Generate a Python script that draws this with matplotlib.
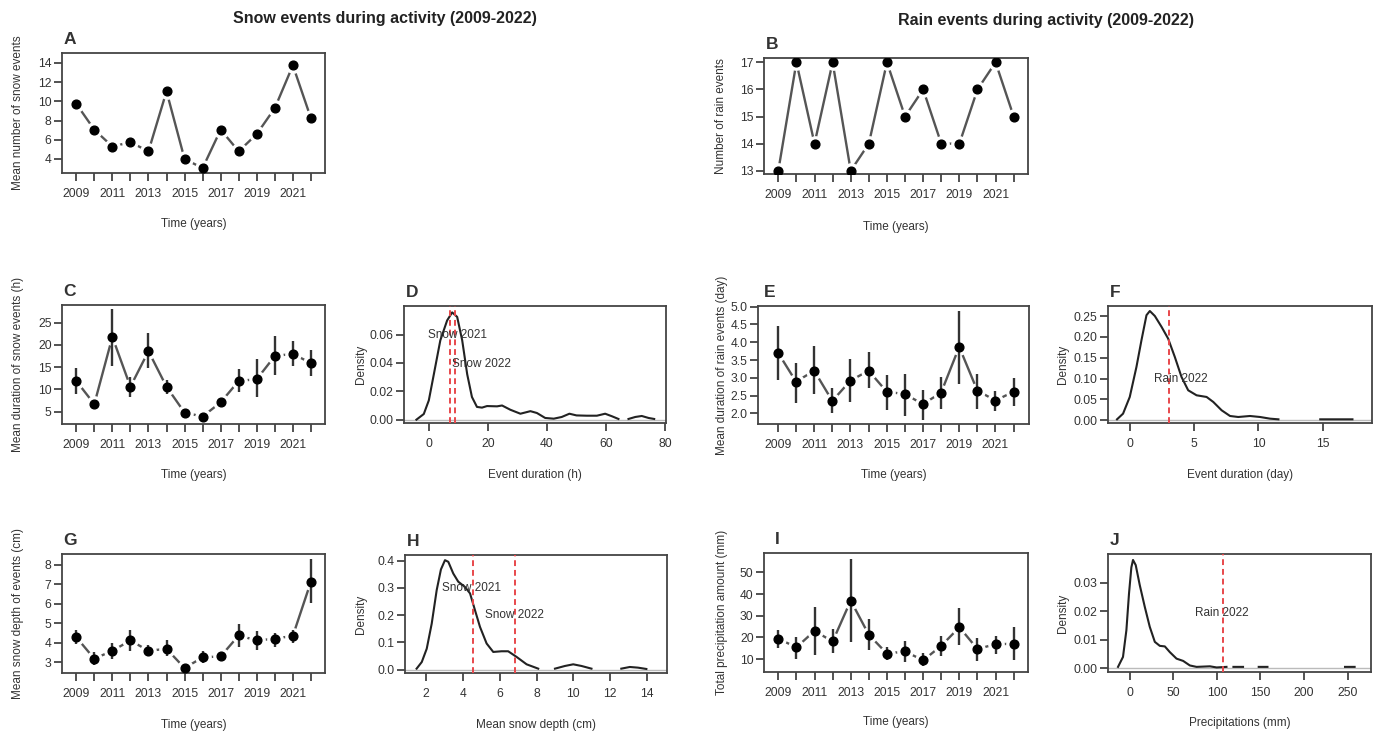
import numpy as np
import matplotlib.pyplot as plt

plt.rcParams['font.family'] = ['Liberation Sans', 'DejaVu Sans']

nan = np.nan
years = list(range(2009, 2023))
year_labels = [str(y) if (y - 2009) % 2 == 0 else '' for y in years]

# A - snow events per year
snow_n = [9.75, 7.05, 5.3, 5.75, 4.8, 11.05, 4.0, 3.05, 7.05, 4.8, 6.6, 9.3, 13.75, 8.25]

# B - rain events per year
rain_n = [13, 17, 14, 17, 13, 14, 17, 15, 16, 14, 14, 16, 17, 15]

# C - mean snow event duration (h) with bars
snow_dur = [11.9, 6.7, 21.8, 10.6, 18.6, 10.6, 4.8, 3.9, 7.1, 11.9, 12.3, 17.5, 18.0, 15.9]
snow_dur_lo = [9.0, 6.2, 15.3, 8.4, 14.8, 9.0, 4.3, 3.5, 6.5, 9.5, 8.2, 13.3, 15.2, 13.1]
snow_dur_hi = [14.9, 7.2, 28.0, 12.9, 22.7, 12.2, 5.3, 4.3, 7.7, 14.5, 16.8, 21.9, 20.9, 18.9]

# E - mean rain event duration (day)
rain_dur = [3.71, 2.89, 3.2, 2.35, 2.92, 3.2, 2.61, 2.54, 2.26, 2.58, 3.87, 2.64, 2.36, 2.61]
rain_dur_lo = [2.94, 2.30, 2.54, 2.0, 2.31, 2.72, 2.09, 1.93, 1.81, 2.12, 2.82, 2.12, 2.07, 2.22]
rain_dur_hi = [4.46, 3.42, 3.89, 2.70, 3.53, 3.72, 3.08, 3.12, 2.67, 3.03, 4.88, 3.12, 2.63, 3.0]

# G - mean snow depth (cm)
depth = [4.28, 3.17, 3.58, 4.11, 3.58, 3.68, 2.69, 3.24, 3.29, 4.37, 4.11, 4.20, 4.35, 7.14]
depth_lo = [3.94, 2.83, 3.17, 3.55, 3.29, 3.29, 2.64, 2.95, 3.12, 3.75, 3.63, 3.80, 3.98, 6.03]
depth_hi = [4.63, 3.51, 3.98, 4.63, 3.89, 4.11, 2.74, 3.55, 3.46, 4.97, 4.58, 4.52, 4.66, 8.31]

# I - total precipitation (mm)
precip = [19.4, 15.4, 23.0, 18.1, 37.0, 21.2, 12.5, 13.5, 9.4, 16.1, 24.7, 14.6, 16.9, 17.0]
precip_lo = [15.1, 10.0, 12.0, 12.8, 17.8, 14.0, 9.7, 8.5, 6.6, 11.5, 16.3, 8.9, 12.5, 9.7]
precip_hi = [23.5, 20.4, 33.9, 23.9, 56.4, 28.4, 15.5, 18.1, 12.8, 20.7, 33.8, 19.7, 20.7, 25.0]

# D - density of snow event duration
d_x = [-4.2, -1.7, 0, 1.7, 3.9, 6.2, 7.9, 9.6, 11.3, 13, 14.6, 16.3, 18, 19.7, 23.1, 24.8,
       27.6, 31, 34.4, 36.6, 39.4, 42.3, 45, 47.6, 50, 53.5, 56.9, 59.7, 62, 64.2, 66,
       67.6, 69.9, 72.1, 74.4, 76.3]
d_y = [0, 0.004, 0.0136, 0.032, 0.056, 0.070, 0.0757, 0.0725, 0.056, 0.032, 0.016, 0.009,
       0.0085, 0.0096, 0.0094, 0.010, 0.007, 0.0042, 0.006, 0.0047, 0.0012, 0.0007, 0.0019,
       0.0042, 0.003, 0.0028, 0.0028, 0.0042, 0.0024, 0.0005, nan, 0.0005, 0.0019, 0.0026,
       0.0012, 0.0005]
d_lines = [7.3, 8.7]

# F - density of rain event duration
f_x = [-0.99, -0.52, 0, 0.52, 0.91, 1.30, 1.56, 1.95, 2.47, 2.98, 3.5, 4.02, 4.54, 5.19,
       5.97, 6.49, 7.14, 7.79, 8.43, 9.34, 10.12, 10.9, 11.55, 13.0, 14.8, 17.3]
f_y = [0.0024, 0.016, 0.056, 0.128, 0.192, 0.252, 0.262, 0.25, 0.224, 0.196, 0.152, 0.104,
       0.072, 0.060, 0.056, 0.044, 0.024, 0.0104, 0.008, 0.0104, 0.008, 0.004, 0.0024, nan,
       0.0024, 0.0024]
f_lines = [3.04]

# H - density of mean snow depth
h_x = [1.49, 1.77, 2.04, 2.31, 2.58, 2.81, 3.03, 3.21, 3.48, 3.75, 4.11, 4.39, 4.66, 4.93,
       5.29, 5.65, 6.10, 6.46, 6.92, 7.46, 8.09, 8.5, 9.0, 9.54, 9.99, 10.44, 10.98, 11.8,
       12.6, 13.06, 13.5, 13.96]
h_y = [0.0037, 0.028, 0.077, 0.169, 0.292, 0.368, 0.402, 0.396, 0.353, 0.323, 0.304, 0.280,
       0.218, 0.157, 0.096, 0.065, 0.0675, 0.0675, 0.0466, 0.0196, 0.0037, nan, 0.0037,
       0.0135, 0.0196, 0.0135, 0.0037, nan, 0.0037, 0.0098, 0.0074, 0.0025]
h_lines = [4.53, 6.83]

# J - density of precipitation
j_x = [-13.4, -7.7, -3.8, -0.8, 1.9, 3.8, 6.9, 11.5, 17.3, 23.0, 28.8, 34.5, 40.3, 46, 53.7,
       61.3, 69, 76.7, 92, 99.7, 111, 115, 119, 130, 140, 148, 158, 200, 247, 258]
j_y = [0.0004, 0.0039, 0.0133, 0.0262, 0.0354, 0.038, 0.0362, 0.0292, 0.0215, 0.0145,
       0.0092, 0.0078, 0.0076, 0.0056, 0.0033, 0.0025, 0.0009, 0.0004, 0.0006, 0.0002,
       0.0004, nan, 0.0004, 0.0004, nan, 0.0004, 0.0004, nan, 0.0004, 0.0004]
j_lines = [106.6]

W, H = 1378, 731
fig = plt.figure(figsize=(W / 100, H / 100), dpi=100)
TXT = '#333333'


def panel(l, t, r, b, letter, xlab, ylab, ylab_x, xlab_y, letter_dx=1):
    ax = fig.add_axes([l / W, 1 - b / H, (r - l) / W, (b - t) / H])
    for s in ax.spines.values():
        s.set_color('#444444')
        s.set_linewidth(1.3)
        s.set_zorder(2.5)
    ax.tick_params(direction='out', length=6, width=1.3, color='#444444',
                   labelcolor=TXT, labelsize=8.7)
    ax.tick_params(axis='x', pad=5)
    ax.tick_params(axis='y', pad=1.5)
    ax.annotate(letter, xy=(0, 1), xycoords='axes fraction', xytext=(letter_dx, 4),
                textcoords='offset points', fontsize=12.5, fontweight='bold',
                color=TXT, ha='left', va='bottom')
    ax.set_xlabel(xlab, fontsize=8.5, color=TXT, va='center')
    ax.xaxis.set_label_coords(0.5, -(xlab_y - b) / (b - t))
    ax.set_ylabel(ylab, fontsize=8.5, color=TXT, va='center')
    ax.yaxis.set_label_coords(-(l - ylab_x) / (r - l), 0.5)
    return ax


def series(ax, y, lo=None, hi=None):
    ax.plot(years, y, color='#555555', lw=1.7, zorder=1)
    ax.plot(years, y, 'o', color='white', ms=11, zorder=1.5)
    if lo is not None:
        ax.vlines(years, lo, hi, color='#333333', lw=1.7, zorder=3)
    ax.plot(years, y, 'o', color='black', ms=6.3, zorder=4)
    ax.set_xticks(years)
    ax.set_xticklabels(year_labels)


def density(ax, x, y, lines):
    ax.axhline(0, color='#bbbbbb', lw=1, zorder=1)
    ax.plot(x, y, color='#222222', lw=1.5, zorder=2)
    for v in lines:
        ax.axvline(v, color='#e8474b', lw=1.4, ls=(0, (3, 2)), zorder=3)


# titles
fig.text(385 / W, 1 - 18 / H, 'Snow events during activity (2009-2022)', ha='center',
         va='center', fontsize=11.5, fontweight='bold', color='#222222')
fig.text(1046 / W, 1 - 20 / H, 'Rain events during activity (2009-2022)', ha='center',
         va='center', fontsize=11.5, fontweight='bold', color='#222222')

# A
ax = panel(62, 53, 325, 173, 'A', 'Time (years)', 'Mean number of snow events', 18, 224)
series(ax, snow_n)
ax.set_xlim(2008.21, 2022.78)
ax.set_ylim(2.54, 15.04)
ax.set_yticks([4, 6, 8, 10, 12, 14])

# B
ax = panel(764, 58, 1028, 174, 'B', 'Time (years)', 'Number of rain events', 721, 227)
series(ax, rain_n)
ax.set_xlim(2008.21, 2022.79)
ax.set_ylim(12.88, 17.16)
ax.set_yticks([13, 14, 15, 16, 17])

# C
ax = panel(62, 305, 325, 424, 'C', 'Time (years)', 'Mean duration of snow events (h)', 18, 475)
series(ax, snow_dur, snow_dur_lo, snow_dur_hi)
ax.set_xlim(2008.21, 2022.78)
ax.set_ylim(2.23, 28.97)
ax.set_yticks([5, 10, 15, 20, 25])

# D
ax = panel(404, 306, 666, 423, 'D', 'Event duration (h)', 'Density', 361, 475)
density(ax, d_x, d_y, d_lines)
ax.text(9.6, 0.060, 'Snow 2021', ha='center', va='center', fontsize=8.5, color=TXT)
ax.text(17.9, 0.039, 'Snow 2022', ha='center', va='center', fontsize=8.5, color=TXT)
ax.set_xlim(-8.4, 80.3)
ax.set_ylim(-0.00235, 0.0802)
ax.set_xticks([0, 20, 40, 60, 80])
ax.set_yticks([0, 0.02, 0.04, 0.06])
ax.set_yticklabels(['0.00', '0.02', '0.04', '0.06'])

# E
ax = panel(758, 306, 1029, 424, 'E', 'Time (years)', 'Mean duration of rain events (day)', 722, 475,
           letter_dx=4)
series(ax, rain_dur, rain_dur_lo, rain_dur_hi)
ax.set_xlim(2007.9, 2022.85)
ax.set_ylim(1.70, 5.02)
ax.set_yticks([2.0, 2.5, 3.0, 3.5, 4.0, 4.5, 5.0])
ax.set_yticklabels(['2.0', '2.5', '3.0', '3.5', '4.0', '4.5', '5.0'])

# F
ax = panel(1108, 306, 1372, 423, 'F', 'Event duration (day)', 'Density', 1063, 475)
density(ax, f_x, f_y, f_lines)
ax.text(3.93, 0.098, 'Rain 2022', ha='center', va='center', fontsize=8.5, color=TXT)
ax.set_xlim(-1.69, 18.82)
ax.set_ylim(-0.0064, 0.274)
ax.set_xticks([0, 5, 10, 15])
ax.set_yticks([0, 0.05, 0.10, 0.15, 0.20, 0.25])
ax.set_yticklabels(['0.00', '0.05', '0.10', '0.15', '0.20', '0.25'])

# G
ax = panel(62, 554, 325, 673, 'G', 'Time (years)', 'Mean snow depth of events (cm)', 18, 725)
series(ax, depth, depth_lo, depth_hi)
ax.set_xlim(2008.21, 2022.78)
ax.set_ylim(2.435, 8.565)
ax.set_yticks([3, 4, 5, 6, 7, 8])

# H
ax = panel(405, 555, 667, 673, 'H', 'Mean snow depth (cm)', 'Density', 361, 725)
density(ax, h_x, h_y, h_lines)
ax.text(4.48, 0.30, 'Snow 2021', ha='center', va='center', fontsize=8.5, color=TXT)
ax.text(6.79, 0.20, 'Snow 2022', ha='center', va='center', fontsize=8.5, color=TXT)
ax.set_xlim(0.86, 15.08)
ax.set_ylim(-0.0123, 0.421)
ax.set_xticks([2, 4, 6, 8, 10, 12, 14])
ax.set_yticks([0, 0.1, 0.2, 0.3, 0.4])
ax.set_yticklabels(['0.0', '0.1', '0.2', '0.3', '0.4'])

# I
ax = panel(764, 553, 1028, 672, 'I', 'Time (years)', 'Total precipitation amount (mm)', 722, 722,
           letter_dx=8)
series(ax, precip, precip_lo, precip_hi)
ax.set_xlim(2008.21, 2022.79)
ax.set_ylim(4.0, 59.0)
ax.set_yticks([10, 20, 30, 40, 50])

# J
ax = panel(1108, 554, 1371, 672, 'J', 'Precipitations (mm)', 'Density', 1063, 723)
density(ax, j_x, j_y, j_lines)
ax.text(106.2, 0.0194, 'Rain 2022', ha='center', va='center', fontsize=8.5, color=TXT)
ax.set_xlim(-24.9, 276.8)
ax.set_ylim(-0.0014, 0.0401)
ax.set_xticks([0, 50, 100, 150, 200, 250])
ax.set_yticks([0, 0.01, 0.02, 0.03])
ax.set_yticklabels(['0.00', '0.01', '0.02', '0.03'])

fig.savefig('out.png', dpi=100)
